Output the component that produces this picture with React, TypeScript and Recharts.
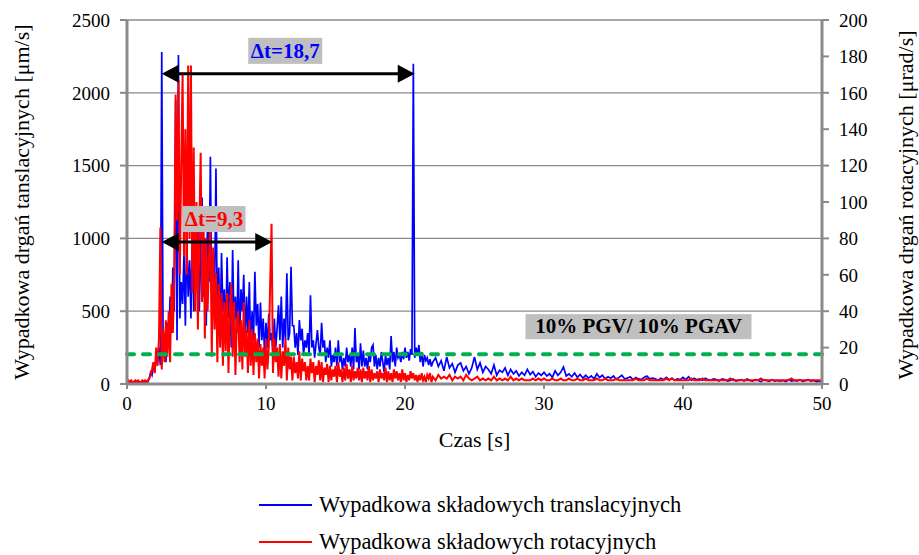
import { LineChart, Line, XAxis, YAxis, CartesianGrid, ReferenceLine, Label } from 'recharts';

// sampled at 0.1 s from 0 to 21.9 s, one row per second
const BLUE_FINE = [
  15, 12, 18, 10, 14, 16, 12, 15, 11, 14,
  13, 16, 12, 15, 18, 14, 40, 80, 60, 120,
  90, 180, 150, 250, 130, 2280, 200, 350, 150, 420,
  250, 600, 350, 800, 500, 1950, 300, 2260, 450, 700,
  550, 900, 400, 1000, 600, 850, 450, 1100, 500, 800,
  700, 1100, 500, 900, 1280, 600, 1000, 400, 1200, 700,
  1560, 500, 900, 600, 1480, 400, 800, 350, 900, 500,
  650, 300, 870, 450, 700, 250, 920, 400, 600, 350,
  850, 300, 650, 500, 750, 280, 600, 350, 700, 250,
  500, 300, 770, 400, 550, 250, 560, 300, 450, 200,
  420, 250, 480, 300, 350, 200, 450, 250, 380, 540,
  300, 600, 250, 450, 300, 760, 300, 350, 805, 400,
  400, 250, 350, 200, 440, 300, 380, 200, 300, 250,
  350, 200, 610, 250, 300, 180, 280, 370, 250, 200,
  420, 250, 300, 150, 250, 180, 300, 120, 200, 150,
  250, 120, 300, 150, 200, 100, 180, 120, 250, 150,
  200, 120, 250, 100, 385, 150, 200, 100, 280, 120,
  230, 120, 180, 100, 200, 150, 250, 268, 120, 200,
  100, 180, 120, 220, 150, 80, 200, 130, 180, 100,
  330, 150, 220, 120, 250, 180, 200, 150, 220, 170,
  250, 180, 220, 160, 240, 200, 2200, 180, 250, 200,
  268, 150, 220, 120, 200, 160, 180, 130, 170, 120,
];

const RED_FINE = [
  1, 2, 1, 2, 1, 1, 2, 1, 2, 1,
  1, 2, 1, 2, 1, 2, 3, 5, 8, 12,
  6, 20, 10, 25, 86, 8, 30, 12, 35, 15,
  40, 12, 55, 28, 60, 159, 90, 167, 60, 120,
  171, 70, 140, 60, 175, 80, 175, 50, 130, 40,
  100, 30, 85, 127, 45, 95, 25, 80, 40, 70,
  89, 15, 75, 30, 61, 12, 55, 20, 50, 10,
  45, 18, 50, 6, 40, 55, 15, 45, 5, 35,
  40, 12, 35, 8, 45, 15, 30, 6, 35, 10,
  30, 5, 28, 12, 25, 3, 22, 10, 20, 3,
  25, 8, 20, 55, 88, 6, 25, 12, 20, 4,
  22, 3, 18, 10, 25, 2, 20, 8, 15, 2,
  15, 6, 12, 3, 18, 2, 14, 7, 12, 2,
  10, 2, 14, 6, 12, 1, 10, 5, 13, 2,
  12, 1, 9, 5, 11, 1, 10, 2, 8, 4,
  10, 1, 12, 4, 8, 1, 9, 2, 11, 3,
  8, 1, 10, 2, 7, 3, 9, 2, 8, 1,
  9, 3, 7, 2, 10, 1, 8, 2, 6, 3,
  7, 1, 8, 3, 6, 2, 9, 1, 7, 2,
  6, 1, 8, 3, 7, 2, 6, 1, 8, 2,
  6, 1, 5, 2, 7, 3, 6, 2, 5, 1,
  5, 2, 6, 2, 4, 1, 5, 3, 6, 1,
];

// sampled at 0.2 s from 22.0 to 50.0 s
const BLUE_COARSE = [
  150, 180, 120, 160, 90,
  185, 110, 140, 80, 130,
  145, 90, 120, 70, 110,
  185, 100, 145, 80, 120,
  100, 70, 130, 60, 95,
  80, 110, 60, 100, 70,
  90, 55, 80, 60, 100,
  65, 85, 50, 75, 60,
  80, 55, 70, 45, 90,
  60, 80, 117, 55, 70,
  50, 75, 45, 65, 40,
  60, 40, 55, 35, 70,
  45, 60, 35, 50, 40,
  55, 30, 45, 60, 35,
  40, 50, 30, 45, 35,
  30, 45, 55, 35, 40,
  35, 25, 40, 30, 45,
  30, 40, 25, 35, 30,
  45, 30, 50, 25, 40,
  30, 35, 25, 40, 30,
  25, 35, 30, 20, 35,
  30, 20, 25, 35, 20,
  25, 30, 20, 35, 25,
  20, 30, 25, 15, 30,
  25, 18, 30, 20, 25,
  20, 25, 15, 30, 20,
  25, 20, 30, 18, 22,
  30, 20, 25, 15, 20,
  15,
];

const RED_COARSE = [
  4, 2, 5, 3, 4,
  3, 5, 2, 4, 3,
  4, 2, 5, 3, 2,
  3, 4, 2, 3, 2,
  3, 2, 4, 2, 3,
  2, 3, 2, 4, 2,
  3, 2, 3, 2, 2,
  2, 3, 2, 3, 2,
  3, 2, 2, 3, 2,
  2, 3, 2, 2, 3,
  2, 2, 3, 2, 2,
  3, 2, 2, 2, 3,
  2, 2, 3, 2, 2,
  2, 3, 2, 2, 2,
  2, 2, 2, 3, 2,
  2, 2, 3, 2, 2,
  2, 2, 2, 2, 3,
  2, 3, 2, 2, 2,
  2, 2, 2, 3, 2,
  2, 2, 3, 2, 2,
  2, 2, 2, 2, 2,
  2, 2, 3, 2, 2,
  2, 2, 2, 2, 2,
  2, 2, 2, 3, 2,
  2, 2, 2, 2, 2,
  2, 2, 2, 2, 3,
  2, 2, 2, 2, 2,
  2, 2, 2, 2, 2,
  2,
];

const X_TICKS = [0, 10, 20, 30, 40, 50];
const LEFT_TICKS = [0, 500, 1000, 1500, 2000, 2500];
const RIGHT_TICKS = [0, 20, 40, 60, 80, 100, 120, 140, 160, 180, 200];

const THRESHOLD = 205;
const SPAN_BLUE = { from: 2.5, to: 20.7, level: 2130, text: 'Δt=18,7' };
const SPAN_RED = { from: 2.5, to: 10.45, level: 975, text: 'Δt=9,3' };

const SERIF = '"Liberation Serif", "Times New Roman", serif';
const AXIS_GREY = '#8a8a8a';

const rows = [
  ...BLUE_FINE.map((b, i) => ({ t: i / 10, blue: b, red: RED_FINE[i] })),
  ...BLUE_COARSE.map((b, i) => ({ t: 22 + (i * 2) / 10, blue: b, red: RED_COARSE[i] })),
];

const serifText = { fontFamily: SERIF };

function arrowShape(text: string, color: string, boxW: number) {
  return (p: any) => {
    const { x1, y1, x2 } = p;
    const y = y1;
    const head = 17;
    const half = 9;
    const cx = (x1 + x2) / 2 - 3;
    const cy = y - 23;
    return (
      <g>
        <line x1={x1 + 4} y1={y} x2={x2 - 4} y2={y} stroke="#000" strokeWidth={3} />
        <polygon points={`${x1},${y} ${x1 + head},${y - half} ${x1 + head},${y + half}`} fill="#000" />
        <polygon points={`${x2},${y} ${x2 - head},${y - half} ${x2 - head},${y + half}`} fill="#000" />
        <rect x={cx - boxW / 2} y={cy - 13} width={boxW} height={26} fill="#bfbfbf" />
        <text x={cx} y={cy + 7} textAnchor="middle" fill={color} style={{ ...serifText, fontWeight: 'bold', fontSize: 21 }}>
          {text}
        </text>
      </g>
    );
  };
}

function thresholdShape(p: any) {
  const { x1, y1, x2 } = p;
  const cx = x1 + (x2 - x1) * 0.736;
  const cy = y1 - 28;
  return (
    <g>
      <line x1={x1} y1={y1} x2={x2} y2={y1} stroke="#00b050" strokeWidth={4} strokeDasharray="7 9" strokeLinecap="round" />
      <rect x={cx - 113} y={cy - 12} width={226} height={25} fill="#bfbfbf" />
      <text x={cx} y={cy + 7} textAnchor="middle" fill="#000" style={{ ...serifText, fontWeight: 'bold', fontSize: 21 }}>
        10% PGV/ 10% PGAV
      </text>
    </g>
  );
}

const tickStyle = { fontFamily: SERIF, fontSize: 19, fill: '#000', style: { fontFamily: SERIF, fontSize: 19 } };

export default function App() {
  return (
    <div style={{ position: 'absolute', left: 0, top: 0, width: 919, height: 555, background: '#fff', fontFamily: SERIF }}>
      <LineChart width={919} height={555} data={rows} margin={{ top: 20, right: 0, bottom: 101, left: 0 }} style={serifText}>
        <CartesianGrid yAxisId="left" vertical={false} stroke={AXIS_GREY} strokeWidth={1.3} />
        <XAxis
          dataKey="t"
          type="number"
          domain={[0, 50]}
          ticks={X_TICKS}
          height={70}
          tick={tickStyle}
          tickSize={5}
          tickMargin={8}
          axisLine={{ stroke: AXIS_GREY, strokeWidth: 3 }}
          tickLine={{ stroke: AXIS_GREY, strokeWidth: 2 }}
        >
          <Label
            content={(p: any) => {
              const vb = p.viewBox;
              return (
                <text x={vb.x + vb.width / 2} y={vb.y + 63} textAnchor="middle" fill="#000" style={{ ...serifText, fontSize: 22 }}>
                  Czas [s]
                </text>
              );
            }}
          />
        </XAxis>
        <YAxis
          yAxisId="left"
          domain={[0, 2500]}
          ticks={LEFT_TICKS}
          width={127}
          tick={tickStyle}
          tickSize={7}
          tickMargin={10}
          interval={0}
          axisLine={{ stroke: AXIS_GREY, strokeWidth: 3 }}
          tickLine={{ stroke: AXIS_GREY, strokeWidth: 2 }}
        >
          <Label
            content={(p: any) => {
              const vb = p.viewBox;
              const x = vb.x + 29;
              const y = vb.y + vb.height / 2;
              return (
                <text x={x} y={y} transform={`rotate(-90, ${x}, ${y})`} textAnchor="middle" fill="#000" style={{ ...serifText, fontSize: 22 }}>
                  Wypadkowa drgań tanslacyjnych [μm/s]
                </text>
              );
            }}
          />
        </YAxis>
        <YAxis
          yAxisId="right"
          orientation="right"
          domain={[0, 200]}
          ticks={RIGHT_TICKS}
          width={97}
          tick={tickStyle}
          tickSize={7}
          tickMargin={10}
          interval={0}
          axisLine={{ stroke: AXIS_GREY, strokeWidth: 3 }}
          tickLine={{ stroke: AXIS_GREY, strokeWidth: 2 }}
        >
          <Label
            content={(p: any) => {
              const vb = p.viewBox;
              const x = vb.x + 91;
              const y = vb.y + vb.height / 2 + 3;
              return (
                <text x={x} y={y} transform={`rotate(-90, ${x}, ${y})`} textAnchor="middle" fill="#000" style={{ ...serifText, fontSize: 22 }}>
                  Wypadkowa drgań rotacyjnych [μrad/s]
                </text>
              );
            }}
          />
        </YAxis>
        <Line yAxisId="left" type="linear" dataKey="blue" stroke="#0000ff" strokeWidth={1.7} dot={false} isAnimationActive={false} />
        <Line yAxisId="right" type="linear" dataKey="red" stroke="#ff0000" strokeWidth={2} dot={false} isAnimationActive={false} />
        <ReferenceLine yAxisId="left" y={THRESHOLD} shape={thresholdShape} />
        <ReferenceLine
          yAxisId="left"
          segment={[{ x: SPAN_BLUE.from, y: SPAN_BLUE.level }, { x: SPAN_BLUE.to, y: SPAN_BLUE.level }]}
          shape={arrowShape(SPAN_BLUE.text, '#0000ff', 74)}
        />
        <ReferenceLine
          yAxisId="left"
          segment={[{ x: SPAN_RED.from, y: SPAN_RED.level }, { x: SPAN_RED.to, y: SPAN_RED.level }]}
          shape={arrowShape(SPAN_RED.text, '#ff0000', 63)}
        />
      </LineChart>
      <div style={{ position: 'absolute', left: 259, top: 486, fontSize: 22.5, color: '#000', lineHeight: '37px' }}>
        <div style={{ display: 'flex', alignItems: 'center' }}>
          <span style={{ display: 'inline-block', width: 53, height: 2, background: '#0000ff', marginRight: 7 }} />
          Wypadkowa składowych translacyjnych
        </div>
        <div style={{ display: 'flex', alignItems: 'center' }}>
          <span style={{ display: 'inline-block', width: 53, height: 2, background: '#ff0000', marginRight: 7 }} />
          Wypadkowa składowych rotacyjnych
        </div>
      </div>
    </div>
  );
}
